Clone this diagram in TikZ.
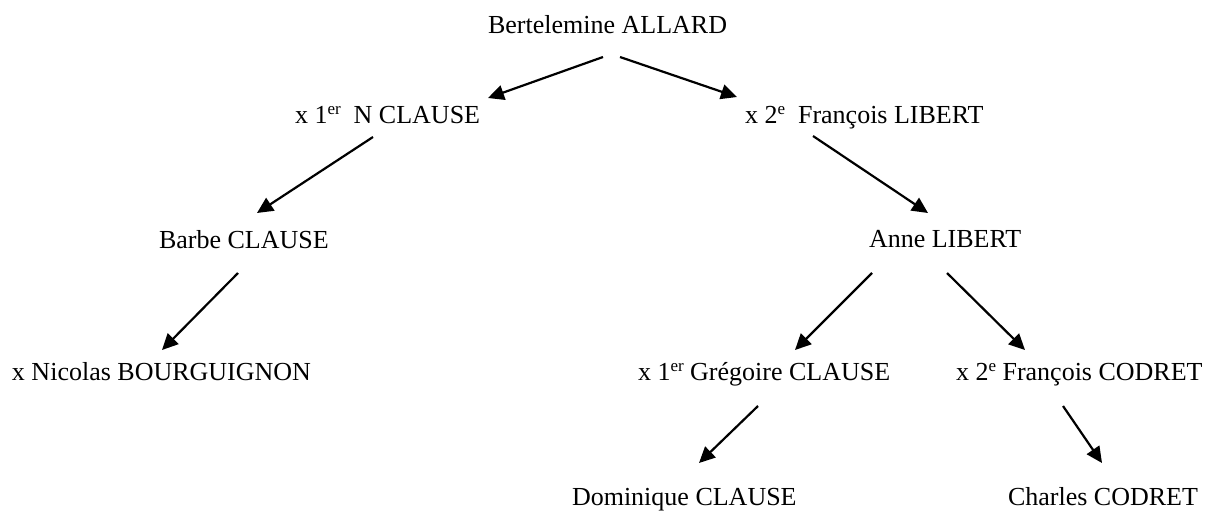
\documentclass[tikz,border=0pt]{standalone}
\usepackage{fontspec}
\setmainfont{Liberation Serif}
\usetikzlibrary{arrows.meta}
\newcommand\sups[1]{\raisebox{8.5pt}{\fontsize{17}{17}\selectfont #1}}
\begin{document}
\begin{tikzpicture}[x=1pt,y=-1pt,
  lbl/.style={anchor=base west,inner sep=0pt,outer sep=0pt,font=\fontsize{26}{30}\selectfont},
  arr/.style={line width=2.2pt,-{Triangle[length=16pt,width=15pt]}}]
\useasboundingbox (0,0) rectangle (1217,514);
\node[lbl] (allard) at (488,33) {Bertelemine ALLARD};
\node[lbl] (ncl) at (295,123) {x 1\sups{er}\ \ N CLAUSE};
\node[lbl] (flib) at (745,123) {x 2\sups{e}\ \ François LIBERT};
\node[lbl] (barbe) at (159,248) {Barbe CLAUSE};
\node[lbl] (anne) at (869,247) {Anne LIBERT};
\node[lbl] (nic) at (12,380) {x Nicolas BOURGUIGNON};
\node[lbl] (greg) at (638,380) {x 1\sups{er} Grégoire CLAUSE};
\node[lbl] (cod) at (956,380) {x 2\sups{e} François CODRET};
\node[lbl] (dom) at (572,505) {Dominique CLAUSE};
\node[lbl] (cha) at (1008,505) {Charles CODRET};
\draw[arr] ([shift={(115,24)}]allard.base west) -- ([shift={(193,-25)}]ncl.base west);
\draw[arr] ([shift={(132,24)}]allard.base west) -- ([shift={(-8,-26)}]flib.base west);
\draw[arr] ([shift={(78,14)}]ncl.base west) -- ([shift={(98,-35)}]barbe.base west);
\draw[arr] ([shift={(68,13)}]flib.base west) -- ([shift={(59,-34)}]anne.base west);
\draw[arr] ([shift={(79,25)}]barbe.base west) -- ([shift={(150,-30)}]nic.base west);
\draw[arr] ([shift={(3,26)}]anne.base west) -- ([shift={(157,-30)}]greg.base west);
\draw[arr] ([shift={(78,26)}]anne.base west) -- ([shift={(69,-30)}]cod.base west);
\draw[arr] ([shift={(120,26)}]greg.base west) -- ([shift={(127,-42)}]dom.base west);
\draw[arr] ([shift={(107,26)}]cod.base west) -- ([shift={(94,-42)}]cha.base west);
\end{tikzpicture}
\end{document}
